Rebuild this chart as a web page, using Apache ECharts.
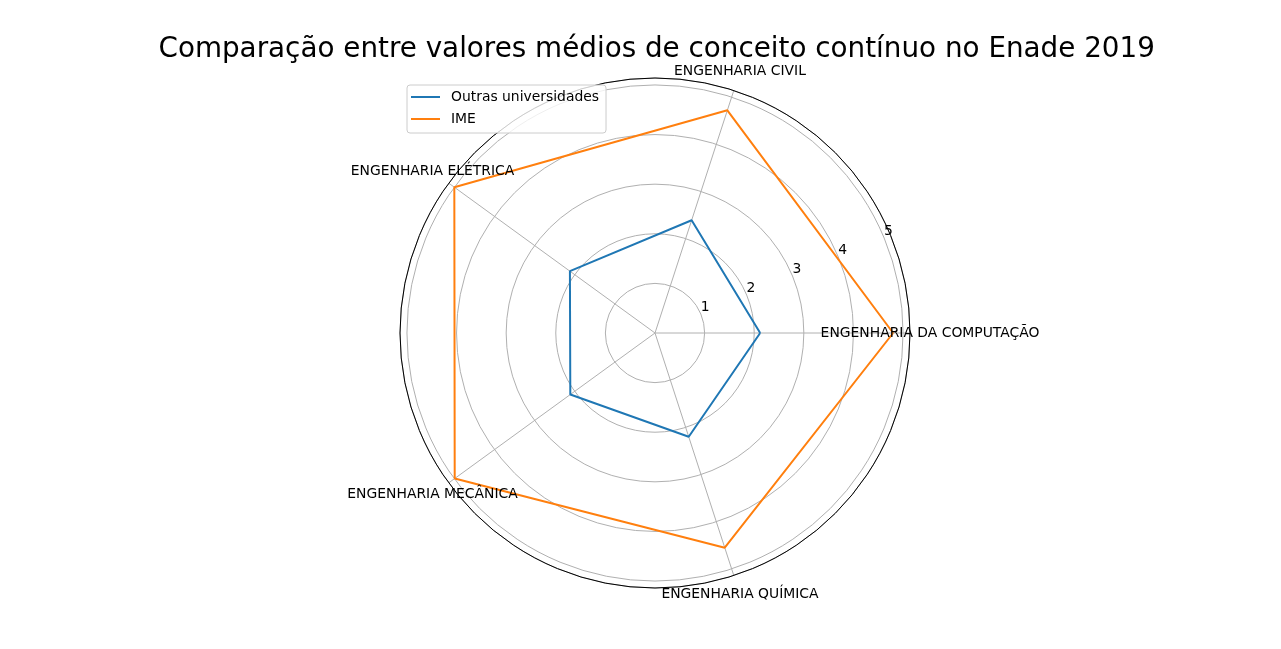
<!DOCTYPE html>
<html><head><meta charset="utf-8">
<script src="https://cdn.jsdelivr.net/npm/echarts@6/dist/echarts.min.js"></script>
<style>html,body{margin:0;padding:0;background:#fff}#c{width:1281px;height:649px}</style>
</head><body><div id="c"></div>
<script>
const titleText = 'Comparação entre valores médios de conceito contínuo no Enade 2019';
const categories = ['ENGENHARIA DA COMPUTAÇÃO', 'ENGENHARIA CIVIL', 'ENGENHARIA ELÉTRICA', 'ENGENHARIA MECÂNICA', 'ENGENHARIA QUÍMICA'];
const seriesNames = ['Outras universidades', 'IME'];
const outras = [2.12, 2.39, 2.12, 2.11, 2.20];
const ime = [4.80, 4.72, 5.00, 4.99, 4.55];
const radialTicks = [1, 2, 3, 4, 5];
const RMAX = 5.14;

const FONT = 'DejaVu Sans';
const LABEL_PAD = 20;
const step = 360 / categories.length;
function closed(vals) {
  const d = vals.map((v, i) => [v, i * step]);
  d.push([vals[0], 360]);
  return d;
}

const chart = echarts.init(document.getElementById('c'), null, {renderer: 'canvas'});
chart.setOption({
  animation: false,
  backgroundColor: '#ffffff',
  textStyle: {fontFamily: FONT},
  title: {
    text: titleText, left: 651.7, top: 31, textAlign: 'center',
    textStyle: {fontFamily: FONT, fontSize: 27.8, fontWeight: 'normal', color: '#000'}
  },
  legend: {
    data: seriesNames, orient: 'vertical', left: 407, top: 85,
    icon: 'rect', itemWidth: 29, itemHeight: 2, itemGap: 8,
    padding: [5, 7, 7, 4],
    borderColor: '#cccccc', borderWidth: 1, borderRadius: 3,
    backgroundColor: 'rgba(255,255,255,0.8)',
    textStyle: {fontFamily: FONT, fontSize: 13.9, color: '#000', padding: [0, 0, 0, 6]}
  },
  polar: [
    {center: [655, 333], radius: 255},
    {center: [659.3, 326.6], radius: 255}
  ],
  angleAxis: [
    {
      polarIndex: 0, type: 'value', min: 0, max: 360, interval: step,
      startAngle: 0, clockwise: false,
      axisLine: {show: true, lineStyle: {color: '#000', width: 1}},
      axisTick: {show: false},
      splitLine: {show: true, lineStyle: {color: '#b0b0b0', width: 1}},
      axisLabel: {show: false}
    },
    {
      polarIndex: 1, type: 'value', min: 0, max: 360, startAngle: 22.5, clockwise: false,
      axisLine: {show: false}, axisTick: {show: false}, splitLine: {show: false}, axisLabel: {show: false}
    }
  ],
  radiusAxis: [
    {
      polarIndex: 0, type: 'value', min: 0, max: RMAX, interval: 1,
      axisLine: {show: false}, axisTick: {show: false}, axisLabel: {show: false},
      splitLine: {show: true, lineStyle: {color: '#b0b0b0', width: 1}}
    },
    {
      polarIndex: 1, type: 'value', min: 0, max: RMAX, interval: 1,
      axisLine: {show: false}, axisTick: {show: false}, splitLine: {show: false},
      axisLabel: {
        show: true, margin: 0, align: 'center', verticalAlign: 'middle',
        fontFamily: FONT, fontSize: 13.9, color: '#000',
        formatter: v => (radialTicks.indexOf(v) >= 0 ? String(v) : '')
      }
    }
  ],
  series: [
    {
      name: seriesNames[0], type: 'line', coordinateSystem: 'polar', polarIndex: 0,
      symbol: 'none', data: closed(outras), color: '#1f77b4',
      lineStyle: {width: 2, color: '#1f77b4'}, z: 3
    },
    {
      name: seriesNames[1], type: 'line', coordinateSystem: 'polar', polarIndex: 0,
      symbol: 'none', data: closed(ime), color: '#ff7f0e',
      lineStyle: {width: 2, color: '#ff7f0e'}, z: 3
    },
    {
      name: 'category labels', type: 'custom', coordinateSystem: 'polar', polarIndex: 0,
      data: categories.map((c, i) => [RMAX, i * step]),
      silent: true, z: 4,
      renderItem: function (params, api) {
        const p = api.coord([api.value(0), api.value(1)]);
        const c = api.coord([0, 0]);
        const dx = p[0] - c[0], dy = p[1] - c[1];
        const len = Math.sqrt(dx * dx + dy * dy) || 1;
        const k = (len + LABEL_PAD) / len;
        return {
          type: 'text',
          style: {
            text: categories[params.dataIndex],
            x: c[0] + dx * k, y: c[1] + dy * k,
            align: 'center', verticalAlign: 'middle',
            font: '13.9px "DejaVu Sans"', fill: '#000'
          }
        };
      }
    }
  ]
});
</script>
</body></html>
